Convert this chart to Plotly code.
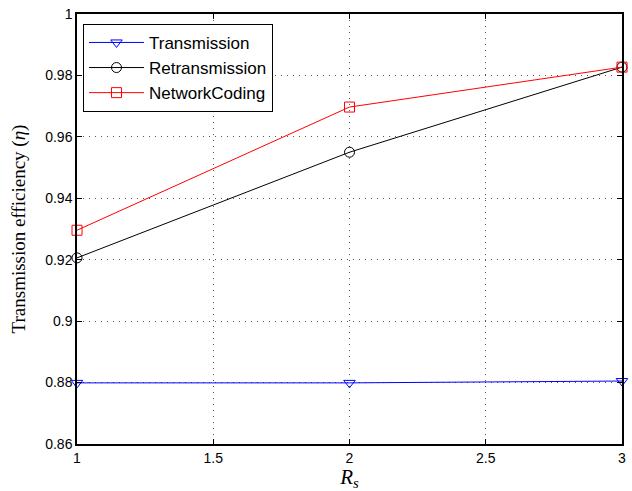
import plotly.graph_objects as go

x_vals = [1, 2, 3]
transmission = [0.8799, 0.8799, 0.8805]
retransmission = [0.9206, 0.9550, 0.9827]
network_coding = [0.9296, 0.9697, 0.9827]

y_ticks = [0.86, 0.88, 0.90, 0.92, 0.94, 0.96, 0.98, 1.0]
y_tick_labels = ["0.86", "0.88", "0.9", "0.92", "0.94", "0.96", "0.98", "1"]
x_ticks = [1, 1.5, 2, 2.5, 3]
x_tick_labels = ["1", "1.5", "2", "2.5", "3"]

fig = go.Figure()
series = [
    ("Transmission", transmission, "#0000ff", "triangle-down-open"),
    ("Retransmission", retransmission, "#000000", "circle-open"),
    ("NetworkCoding", network_coding, "#ff0000", "square-open"),
]
for name, vals, col, sym in series:
    fig.add_trace(go.Scatter(
        x=x_vals, y=vals, name=name, mode="lines+markers",
        line=dict(color=col, width=1),
        marker=dict(symbol=sym, size=10, color=col, line=dict(color=col, width=1)),
        cliponaxis=False,
    ))

axis_common = dict(
    showline=True, linecolor="black", linewidth=1.5, mirror="ticks",
    ticks="inside", ticklen=5, tickcolor="black", tickwidth=1,
    showgrid=True, gridcolor="#555555", griddash="1px,5px", gridwidth=1,
    zeroline=False, automargin=False,
    tickfont=dict(family="Liberation Sans, Arial, sans-serif", size=14, color="black"),
)

fig.update_xaxes(
    range=[1, 3], tickvals=x_ticks, ticktext=x_tick_labels,
    title=dict(text="<i>R</i><sub><i>s</i></sub>",
               font=dict(family="Liberation Serif, Times New Roman, serif", size=21, color="black")),
    **axis_common,
)
fig.update_yaxes(
    range=[0.86, 1.0], tickvals=y_ticks, ticktext=y_tick_labels,
    title=dict(text="Transmission efficiency (<i>η</i>)",
               font=dict(family="Liberation Serif, Times New Roman, serif", size=19, color="black")),
    **axis_common,
)

fig.update_layout(
    width=632, height=491,
    margin=dict(l=77, r=10, t=14, b=47),
    plot_bgcolor="white", paper_bgcolor="white",
    legend=dict(
        x=0.011, y=0.977, xanchor="left", yanchor="top",
        bgcolor="white", bordercolor="black", borderwidth=1,
        font=dict(family="Liberation Sans, Arial, sans-serif", size=17, color="black"),
        tracegroupgap=0, itemwidth=55,
    ),
    showlegend=True,
)

fig.write_html("out.html")
